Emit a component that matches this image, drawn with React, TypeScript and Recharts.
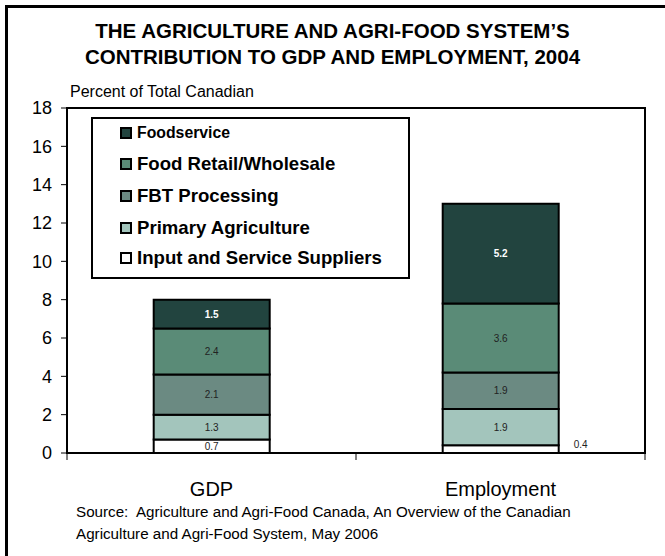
import React from "react";
import { BarChart, Bar, XAxis, YAxis, Legend, LabelList, ReferenceArea } from "recharts";

const categories = ["GDP", "Employment"];
const inputSuppliers = [0.7, 0.4];
const primaryAgriculture = [1.3, 1.9];
const fbtProcessing = [2.1, 1.9];
const foodRetail = [2.4, 3.6];
const foodservice = [1.5, 5.2];
const yTicks = [0, 2, 4, 6, 8, 10, 12, 14, 16, 18];
const titleLines = [
  "THE AGRICULTURE AND AGRI-FOOD SYSTEM\u2019S",
  "CONTRIBUTION TO GDP AND EMPLOYMENT, 2004",
];
const yAxisTitle = "Percent of Total Canadian";
const sourceLines = [
  "Source:  Agriculture and Agri-Food Canada, An Overview of the Canadian",
  "Agriculture and Agri-Food System, May 2006",
];

const FONT = "'Liberation Sans', Arial, Helvetica, sans-serif";
const CAT_TICK_MARGIN = 29;

const series = [
  { key: "input", name: "Input and Service Suppliers", color: "#ffffff", values: inputSuppliers },
  { key: "primary", name: "Primary Agriculture", color: "#a3c5bc", values: primaryAgriculture },
  { key: "fbt", name: "FBT Processing", color: "#6b8a82", values: fbtProcessing },
  { key: "retail", name: "Food Retail/Wholesale", color: "#5a8b77", values: foodRetail },
  { key: "foodservice", name: "Foodservice", color: "#22443f", values: foodservice },
];

const data = categories.map((name, i) => {
  const row: any = { name };
  series.forEach((s) => {
    row[s.key] = s.values[i];
  });
  return row;
});

const makeLabel = (key: string) => (props: any) => {
  const { x, y, width, height, value, index } = props;
  const isTop = key === "foodservice";
  if (key === "input" && index === 1) {
    return (
      <text
        x={x + width + 22}
        y={y + height / 2 - 5}
        textAnchor="middle"
        dominantBaseline="central"
        fontSize={10}
        fontFamily={FONT}
        fill="#222"
      >
        {value}
      </text>
    );
  }
  return (
    <text
      x={x + width / 2}
      y={y + height / 2}
      textAnchor="middle"
      dominantBaseline="central"
      fontSize={10}
      fontWeight={isTop ? "bold" : "normal"}
      fontFamily={FONT}
      fill={isTop ? "#ffffff" : "#222"}
    >
      {value}
    </text>
  );
};

const CategoryTick = (props: any) => {
  const { x, y, payload, index, visibleTicksCount } = props;
  const half = payload && typeof payload.offset === "number" && payload.offset > 0 ? payload.offset : 144;
  const axisY = y - CAT_TICK_MARGIN;
  const last = visibleTicksCount ? index === visibleTicksCount - 1 : index === categories.length - 1;
  return (
    <g>
      <line x1={x - half} x2={x - half} y1={axisY} y2={axisY + 7} stroke="#000" strokeWidth={1} />
      {last && (
        <line x1={x + half} x2={x + half} y1={axisY} y2={axisY + 7} stroke="#000" strokeWidth={1} />
      )}
      <text
        x={x}
        y={y}
        dy="0.71em"
        textAnchor="middle"
        fontSize={20}
        fontFamily={FONT}
        fill="#000"
      >
        {payload.value}
      </text>
    </g>
  );
};

const rowCenters = [14, 45, 77, 109, 139];

const renderLegend = () => {
  const items = [...series].reverse();
  return (
    <div
      style={{
        position: "relative",
        width: 319,
        height: 162,
        border: "2px solid #000",
        boxSizing: "border-box",
        background: "#fff",
        fontFamily: FONT,
      }}
    >
      {items.map((s, i) => (
        <div
          key={s.key}
          style={{
            position: "absolute",
            left: 27,
            top: rowCenters[i] - 12,
            height: 24,
            display: "flex",
            alignItems: "center",
            whiteSpace: "nowrap",
          }}
        >
          <span
            style={{
              display: "inline-block",
              width: 12,
              height: 12,
              border: "2px solid #000",
              background: s.color,
              boxSizing: "border-box",
              marginRight: 5,
            }}
          />
          <span
            style={{
              fontWeight: "bold",
              fontSize: s.key === "foodservice" ? 15.8 : 18.6,
              color: "#000",
            }}
          >
            {s.name}
          </span>
        </div>
      ))}
    </div>
  );
};

export default function App() {
  return (
    <div
      style={{
        position: "absolute",
        left: 0,
        top: 0,
        width: 665,
        height: 556,
        background: "#fff",
        overflow: "hidden",
        fontFamily: FONT,
      }}
    >
      <div
        style={{
          position: "absolute",
          left: 5,
          top: 5,
          width: 700,
          height: 600,
          border: "3px solid #000",
          boxSizing: "border-box",
        }}
      />
      <div
        style={{
          position: "absolute",
          left: 0,
          width: 665,
          top: 18,
          textAlign: "center",
          fontWeight: "bold",
          fontSize: 20.5,
          lineHeight: "26px",
          color: "#000",
        }}
      >
        {titleLines.map((t) => (
          <div key={t}>{t}</div>
        ))}
      </div>
      <div
        style={{
          position: "absolute",
          left: 70,
          top: 82,
          fontSize: 16,
          lineHeight: "20px",
          color: "#000",
          whiteSpace: "nowrap",
        }}
      >
        {yAxisTitle}
      </div>
      <div style={{ position: "absolute", left: 0, top: 0 }}>
        <BarChart
          width={665}
          height={556}
          data={data}
          margin={{ top: 108, right: 20, bottom: 63, left: 0 }}
          barCategoryGap="30%"
        >
          <XAxis
            xAxisId="cat"
            dataKey="name"
            tickLine={false}
            axisLine={{ stroke: "#000", strokeWidth: 2 }}
            tickSize={0}
            tickMargin={CAT_TICK_MARGIN}
            height={40}
            interval={0}
            tick={<CategoryTick />}
          />
          <YAxis
            yAxisId="left"
            domain={[0, 18]}
            ticks={yTicks}
            interval={0}
            width={67}
            tickSize={6}
            tickMargin={9}
            tickLine={{ stroke: "#000", strokeWidth: 1 }}
            axisLine={{ stroke: "#000", strokeWidth: 2 }}
            tick={{ fontSize: 18, fill: "#000", fontFamily: FONT }}
          />
          <ReferenceArea
            xAxisId="cat"
            yAxisId="left"
            y1={0}
            y2={18}
            fill="none"
            stroke="#000"
            strokeWidth={2}
            ifOverflow="visible"
          />
          <Legend
            layout="horizontal"
            verticalAlign="middle"
            align="center"
            wrapperStyle={{ position: "absolute", left: 91, top: 117, width: 319, height: 162 }}
            content={renderLegend}
          />
          {series.map((s) => (
            <Bar
              key={s.key}
              dataKey={s.key}
              name={s.name}
              stackId="a"
              xAxisId="cat"
              yAxisId="left"
              fill={s.color}
              stroke="#000"
              strokeWidth={2}
              isAnimationActive={false}
            >
              <LabelList dataKey={s.key} content={makeLabel(s.key)} />
            </Bar>
          ))}
        </BarChart>
      </div>
      <div
        style={{
          position: "absolute",
          left: 76,
          top: 501,
          fontSize: 15.2,
          lineHeight: "22px",
          color: "#000",
          whiteSpace: "pre",
        }}
      >
        {sourceLines.map((t) => (
          <div key={t}>{t}</div>
        ))}
      </div>
    </div>
  );
}
